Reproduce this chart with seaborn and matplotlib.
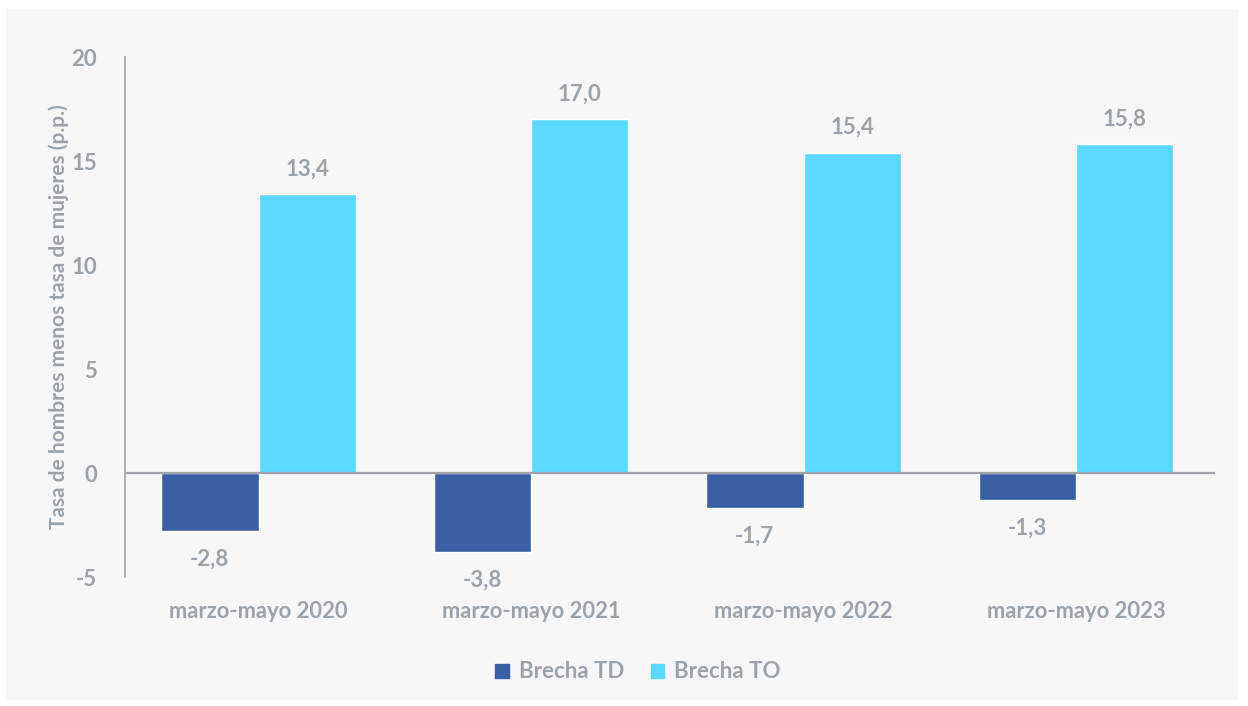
import matplotlib
matplotlib.use("Agg")
import matplotlib.pyplot as plt
import seaborn as sns
import pandas as pd
from matplotlib.patches import Rectangle

periodos = ["marzo-mayo 2020", "marzo-mayo 2021", "marzo-mayo 2022", "marzo-mayo 2023"]
brecha_td = [-2.8, -3.8, -1.7, -1.3]
brecha_to = [13.4, 17.0, 15.4, 15.8]
series = ["Brecha TD", "Brecha TO"]
colores = ["#3A5FA5", "#5AD8FF"]
gris = "#9AA2AB"

df = pd.DataFrame({
    "periodo": periodos * 2,
    "serie": [series[0]] * 4 + [series[1]] * 4,
    "valor": brecha_td + brecha_to,
})

sns.set_style("white")
plt.rcParams["font.family"] = ["Lato", "DejaVu Sans"]
plt.rcParams["font.weight"] = "bold"

fig = plt.figure(figsize=(12.48, 7.06), dpi=100)
fig.patch.set_facecolor("white")
fig.patches.append(Rectangle((6 / 1248, 6 / 706), 1232 / 1248, 691 / 706,
                             transform=fig.transFigure, facecolor="#F7F7F7",
                             edgecolor="none", zorder=-10))
ax = fig.add_axes([125 / 1248, 129 / 706, 1090 / 1248, 520 / 706])
ax.set_facecolor("none")
ax.set_zorder(1)

sns.barplot(data=df, x="periodo", y="valor", hue="serie", palette=colores,
            width=0.715, gap=0, saturation=1, ax=ax, legend=False)

ax.set_xlim(-0.49, 3.51)
ax.set_ylim(-5, 20)
ax.set_yticks([-5, 0, 5, 10, 15, 20])
ax.set_yticklabels(["-5", "0", "5", "10", "15", "20"])
ax.axhline(0, color="#A0A4A8", lw=1.6, zorder=3)

for s in ["top", "right", "bottom"]:
    ax.spines[s].set_visible(False)
ax.spines["left"].set_color("#A0A4A8")
ax.spines["left"].set_linewidth(1.2)
ax.tick_params(axis="y", direction="in", length=6, color="#A0A4A8", width=1.2,
               labelsize=16, labelcolor=gris, pad=20)
ax.tick_params(axis="x", length=0, labelsize=15.8, labelcolor=gris, pad=17)
for t in ax.get_xticklabels() + ax.get_yticklabels():
    t.set_fontweight("bold")

ax.set_xlabel("")
ax.set_ylabel("Tasa de hombres menos tasa de mujeres (p.p.)", fontsize=15,
              color=gris, fontweight="bold", labelpad=2)

for cont in ax.containers:
    for bar in cont:
        v = bar.get_height()
        xc = bar.get_x() + bar.get_width() / 2
        txt = f"{v:.1f}".replace(".", ",")
        if v >= 0:
            ax.text(xc, v + 0.7, txt, ha="center", va="bottom", fontsize=16,
                    color=gris, fontweight="bold")
        else:
            ax.text(xc, v - 0.85, txt, ha="center", va="top", fontsize=16,
                    color=gris, fontweight="bold")

handles = [Rectangle((0, 0), 1, 1, color=c) for c in colores]
fig.legend(handles, series, loc="center", bbox_to_anchor=(638 / 1248, 1 - 672 / 706),
           ncol=2, frameon=False, labelcolor=gris,
           handlelength=0.6, handleheight=0.6, handletextpad=0.45, columnspacing=1.2,
           prop={"weight": "bold", "size": 16})

fig.savefig("out.png", dpi=100, facecolor=fig.get_facecolor())
